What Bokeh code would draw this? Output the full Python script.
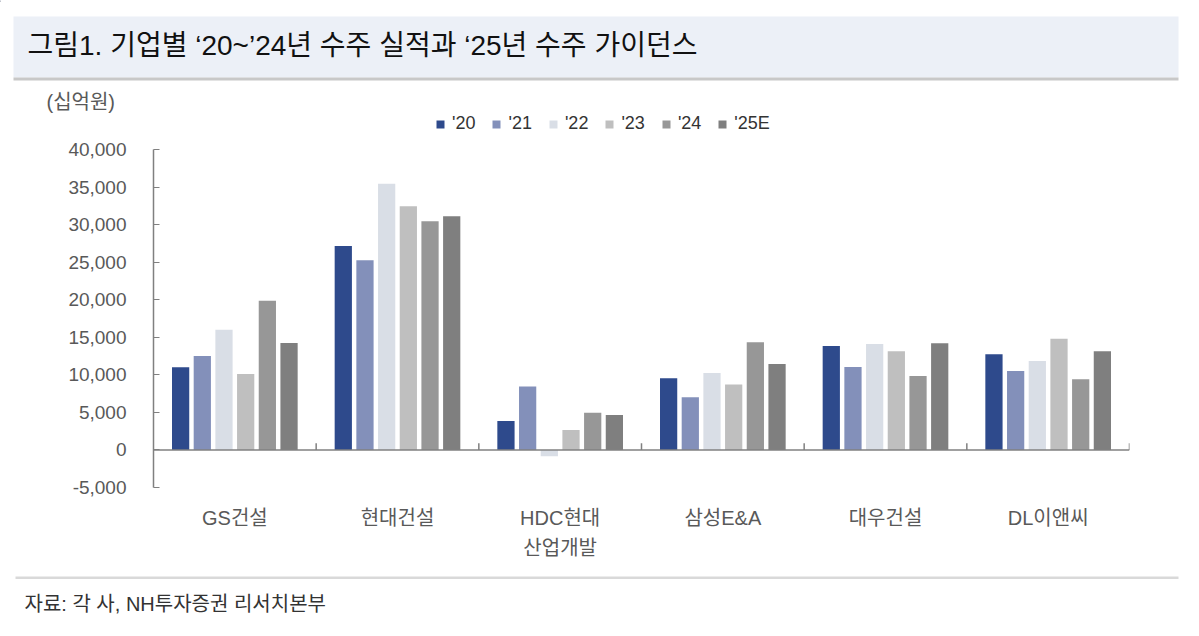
from bokeh.plotting import figure
from bokeh.layouts import column
from bokeh.models import (FactorRange, Range1d, FixedTicker, NumeralTickFormatter,
                          Span, Label, BoxAnnotation, ColumnDataSource, Legend, LegendItem)
from bokeh.transform import dodge
from bokeh.embed import file_html
from bokeh.resources import INLINE

companies = ["GS건설", "현대건설", "HDC현대\n산업개발", "삼성E&A", "대우건설", "DL이앤씨"]
years = ["'20", "'21", "'22", "'23", "'24", "'25E"]
v20 = [11000, 27150, 3850, 9550, 13850, 12750]
v21 = [12500, 25250, 8450, 7000, 11050, 10500]
v22 = [16000, 35450, -850, 10250, 14100, 11850]
v23 = [10100, 32450, 2650, 8700, 13150, 14800]
v24 = [19850, 30450, 4950, 14350, 9850, 9400]
v25 = [14250, 31100, 4650, 11450, 14200, 13150]
y_ticks = [-5000, 0, 5000, 10000, 15000, 20000, 25000, 30000, 35000, 40000]
colors = ["#2E4A8C", "#8390BA", "#D9DEE6", "#BFBFBF", "#979797", "#7F7F7F"]

KR = "'Liberation Sans', 'Noto Sans CJK KR'"
W = 1183
H_TOP, H_MAIN, H_BOT = 140, 434, 46


def blank(h):
    f = figure(width=W, height=h, x_range=Range1d(0, W), y_range=Range1d(h, 0),
               output_backend="svg", toolbar_location=None, min_border=0,
               x_axis_location=None, y_axis_location=None)
    f.outline_line_color = None
    f.grid.visible = False
    f.frame_align = False
    return f


# ---- header: title band, unit, legend
hdr = blank(H_TOP)
hdr.add_layout(BoxAnnotation(left=13, right=1178, top=16, bottom=77, fill_color="#ECF0F7",
                             fill_alpha=1, line_color=None))
hdr.add_layout(BoxAnnotation(left=13, right=1178, top=77, bottom=80, fill_color="#C8C8C8",
                             fill_alpha=1, line_color=None))
hdr.add_layout(Label(x=27, y=45, text="그림1. 기업별 ‘20~’24년 수주 실적과 ‘25년 수주 가이던스",
                     text_font=KR, text_font_size="28px", text_color="#111111",
                     text_baseline="middle"))
hdr.add_layout(Label(x=46, y=101, text="(십억원)", text_font=KR, text_font_size="20px",
                     text_color="#595959", text_baseline="middle"))

# legend swatches: one bar each, parked left of the visible range
items = []
for yr, c in zip(years, colors):
    r = hdr.vbar(x=[-100], top=[1], width=1, fill_color=c, line_color=None)
    items.append(LegendItem(label=yr, renderers=[r]))
lg = Legend(items=items, orientation="horizontal", location=(435, 6), padding=0, margin=0,
            spacing=16, glyph_width=10, glyph_height=10, label_standoff=7,
            border_line_color=None, background_fill_alpha=0,
            label_text_font="Liberation Sans", label_text_font_size="18px",
            label_text_color="#333333")
hdr.add_layout(lg)

# ---- main chart
src = ColumnDataSource(data=dict(company=companies, y20=v20, y21=v21, y22=v22,
                                 y23=v23, y24=v24, y25=v25))

p = figure(width=W, height=H_MAIN, x_range=FactorRange(factors=companies, range_padding=0),
           y_range=Range1d(-5000, 40000), output_backend="svg", toolbar_location=None,
           min_border_left=153, min_border_right=54, min_border_top=9, min_border_bottom=87)
p.outline_line_color = None
p.grid.visible = False
p.title.visible = False
p.frame_align = False

keys = ["y20", "y21", "y22", "y23", "y24", "y25"]
step = 0.1333
for i, (k, c) in enumerate(zip(keys, colors)):
    p.vbar(x=dodge("company", (i - 2.5) * step, range=p.x_range), top=k, width=0.106,
           source=src, fill_color=c, line_color=None)

# zero line with category separators
p.add_layout(Span(location=0, dimension="width", line_color="#808080", line_width=1.5))
sep = ColumnDataSource(data=dict(x=list(range(1, len(companies) + 1))))
p.segment(x0="x", x1="x", y0=0, y1=900, source=sep, line_color="#808080", line_width=1.5)

ya = p.yaxis[0]
ya.ticker = FixedTicker(ticks=y_ticks)
ya.formatter = NumeralTickFormatter(format="0,0")
ya.axis_line_color = "#808080"
ya.axis_line_width = 1.5
ya.major_tick_line_color = "#808080"
ya.major_tick_in = 6
ya.major_tick_out = 0
ya.minor_tick_line_color = None
ya.major_label_standoff = 27
ya.major_label_text_font = "Liberation Sans"
ya.major_label_text_font_size = "19px"
ya.major_label_text_color = "#595959"

xa = p.xaxis[0]
xa.axis_line_color = None
xa.major_tick_line_color = None
xa.major_tick_out = 0
xa.major_label_standoff = 19
xa.major_label_text_font = KR
xa.major_label_text_font_size = "20px"
xa.major_label_text_color = "#595959"
xa.major_label_text_line_height = 1.4

# ---- footer: source note
ftr = blank(H_BOT)
ftr.add_layout(BoxAnnotation(left=15, right=1178, top=2, bottom=4.5, fill_color="#D9D9D9",
                             fill_alpha=1, line_color=None))
ftr.add_layout(Label(x=24, y=29, text="자료: 각 사, NH투자증권 리서치본부", text_font=KR,
                     text_font_size="20px", text_color="#333333", text_baseline="middle"))

layout = column(hdr, p, ftr, spacing=0)
open("out.html", "w").write(file_html(layout, INLINE))
